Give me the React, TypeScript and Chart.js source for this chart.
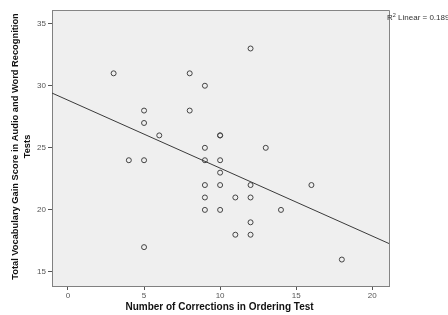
import React, { useEffect, useRef } from "react";
import { Chart, registerables } from "chart.js";

Chart.register(...registerables);

const xVals = [3, 4, 5, 5, 5, 5, 6, 8, 8, 9, 9, 9, 9, 9, 9, 10, 10, 10, 10, 10, 10, 11, 11, 12, 12, 12, 12, 12, 13, 14, 16, 18];
const yVals = [31, 24, 24, 28, 27, 17, 26, 31, 28, 30, 25, 24, 22, 21, 20, 26, 26, 24, 23, 22, 20, 21, 18, 33, 22, 21, 19, 18, 25, 20, 22, 16];

const trendX = [-1.05, 21.1];
const trendY = [29.41, 17.29];

const xTicks = [0, 5, 10, 15, 20];
const yTicks = [15, 20, 25, 30, 35];

const xTitle = "Number of Corrections in Ordering Test";
const yTitle = ["Total Vocabulary Gain Score in Audio and Word Recognition", "Tests"];
const r2Label = "0.189";

const FONT = "'Liberation Sans', Arial, sans-serif";

export default function App() {
  const ref = useRef<HTMLCanvasElement | null>(null);

  useEffect(() => {
    if (!ref.current) return;
    const decor = {
      id: "decor",
      beforeDraw(chart: any) {
        const { ctx, chartArea: a } = chart;
        ctx.save();
        ctx.fillStyle = "#efefef";
        ctx.fillRect(a.left, a.top, a.right - a.left, a.bottom - a.top);
        ctx.restore();
      },
      afterDraw(chart: any) {
        const { ctx, chartArea: a } = chart;
        ctx.save();
        ctx.strokeStyle = "#858585";
        ctx.lineWidth = 1;
        ctx.beginPath();
        ctx.moveTo(a.left, a.top + 0.5);
        ctx.lineTo(a.right + 0.5, a.top + 0.5);
        ctx.lineTo(a.right + 0.5, a.bottom);
        ctx.stroke();

        ctx.fillStyle = "#111";
        ctx.font = `bold 10px ${FONT}`;
        ctx.textAlign = "center";
        ctx.textBaseline = "middle";
        ctx.fillText(xTitle, (a.left + a.right) / 2 - 1, 307);

        ctx.font = `bold 9.3px ${FONT}`;
        const cy = 146.5;
        ctx.save();
        ctx.translate(15, cy);
        ctx.rotate(-Math.PI / 2);
        ctx.fillText(yTitle[0], 0, 0);
        ctx.restore();
        ctx.save();
        ctx.translate(27, cy);
        ctx.rotate(-Math.PI / 2);
        ctx.fillText(yTitle[1], 0, 0);
        ctx.restore();

        ctx.fillStyle = "#333";
        ctx.textAlign = "left";
        ctx.textBaseline = "alphabetic";
        let x = a.right - 2;
        const base = 20;
        ctx.font = `8px ${FONT}`;
        ctx.fillText("R", x, base);
        x += ctx.measureText("R").width;
        ctx.font = `5.5px ${FONT}`;
        ctx.fillText("2", x, base - 3);
        x += ctx.measureText("2").width;
        ctx.font = `8px ${FONT}`;
        ctx.fillText(" Linear = " + r2Label, x, base);
        ctx.restore();
      },
    };

    const chart = new Chart(ref.current, {
      type: "scatter",
      data: {
        datasets: [
          {
            type: "scatter",
            data: xVals.map((x, i) => ({ x, y: yVals[i] })),
            pointRadius: 2.5,
            pointBorderWidth: 1,
            pointBackgroundColor: "rgba(0,0,0,0)",
            pointBorderColor: "#444",
          },
          {
            type: "line",
            data: trendX.map((x, i) => ({ x, y: trendY[i] })),
            borderColor: "#3a3a3a",
            borderWidth: 1,
            pointRadius: 0,
            showLine: true,
            fill: false,
          } as any,
        ],
      },
      plugins: [decor],
      options: {
        responsive: false,
        animation: false,
        layout: { padding: { top: 10, right: 59, left: 0, bottom: 0 } },
        plugins: { legend: { display: false }, tooltip: { enabled: false } },
        scales: {
          x: {
            type: "linear",
            min: -1.05,
            max: 21.1,
            afterBuildTicks: (s: any) => {
              s.ticks = xTicks.map((v) => ({ value: v }));
            },
            afterFit: (s: any) => {
              s.height = 29;
            },
            grid: { drawOnChartArea: false, drawTicks: true, tickLength: 4, color: "#555" },
            border: { color: "#808080", width: 1 },
            ticks: { color: "#555", font: { family: FONT, size: 8 }, padding: 1, maxRotation: 0 },
          },
          y: {
            type: "linear",
            min: 13.87,
            max: 36.1,
            afterBuildTicks: (s: any) => {
              s.ticks = yTicks.map((v) => ({ value: v }));
            },
            afterFit: (s: any) => {
              s.width = 52;
            },
            grid: { drawOnChartArea: false, drawTicks: true, tickLength: 4, color: "#555" },
            border: { color: "#808080", width: 1 },
            ticks: { color: "#555", font: { family: FONT, size: 8 }, padding: 2 },
          },
        },
      },
    } as any);
    return () => chart.destroy();
  }, []);

  return (
    <div style={{ position: "fixed", left: 0, top: 0, width: 448, height: 315, background: "#fff" }}>
      <canvas ref={ref} width={448} height={315} style={{ display: "block" }} />
    </div>
  );
}
